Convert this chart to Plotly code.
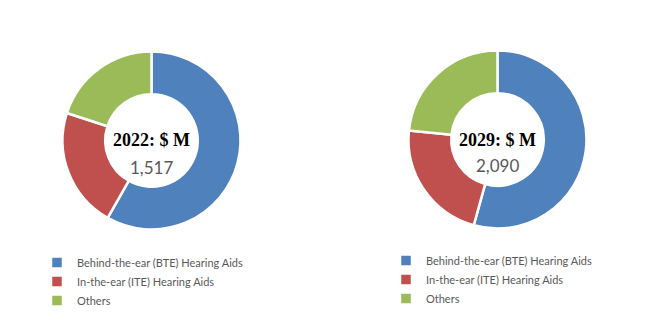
import plotly.graph_objects as go

labels = ["Behind-the-ear (BTE) Hearing Aids", "In-the-ear (ITE) Hearing Aids", "Others"]
values_2022 = [58.2, 21.8, 20.0]
values_2029 = [54.3, 22.3, 23.4]
colors = ["#4F81BD", "#C0504D", "#9BBB59"]
titles = ["2022: $ M", "2029: $ M"]
totals = ["1,517", "2,090"]

fig = go.Figure()
fig.add_trace(go.Pie(
    labels=labels, values=values_2022, hole=0.52, sort=False, direction="clockwise",
    rotation=0, textinfo="none", hoverinfo="label+percent",
    marker=dict(colors=colors, line=dict(color="white", width=2.5)),
    domain=dict(x=[0.0963, 0.3706], y=[0.2873, 0.840]), legend="legend",
))
fig.add_trace(go.Pie(
    labels=[l + "\u200b" for l in labels], values=values_2029, hole=0.52, sort=False, direction="clockwise",
    rotation=0, textinfo="none", hoverinfo="label+percent",
    marker=dict(colors=colors, line=dict(color="white", width=2.5)),
    domain=dict(x=[0.6294, 0.9037], y=[0.2904, 0.8432]), legend="legend2",
))

annos = []
for cx, ty, vy, t, v in [(151.5, 140, 167, titles[0], totals[0]), (497.5, 140, 165, titles[1], totals[1])]:
    annos.append(dict(x=cx / 649, y=1 - ty / 322, xref="paper", yref="paper", text="<b>" + t + "</b>",
                      xanchor="center", yanchor="middle",
                      showarrow=False, font=dict(family="Liberation Serif", size=18, color="black")))
    annos.append(dict(x=cx / 649, y=1 - vy / 322, xref="paper", yref="paper", text=v,
                      xanchor="center", yanchor="middle",
                      showarrow=False, font=dict(family="Lato", size=17, color="#595959")))

legfont = dict(family="Lato", size=11, color="#595959")
fig.update_layout(
    width=649, height=322, margin=dict(l=0, r=0, t=0, b=0),
    paper_bgcolor="white", plot_bgcolor="white",
    annotations=annos,
    legend=dict(x=37 / 649, y=1 - 248 / 322, xanchor="left", yanchor="top", font=legfont,
                bgcolor="rgba(0,0,0,0)", itemwidth=30),
    legend2=dict(x=386 / 649, y=1 - 246 / 322, xanchor="left", yanchor="top", font=legfont,
                 bgcolor="rgba(0,0,0,0)", itemwidth=30),
)
fig.write_html("out.html")
